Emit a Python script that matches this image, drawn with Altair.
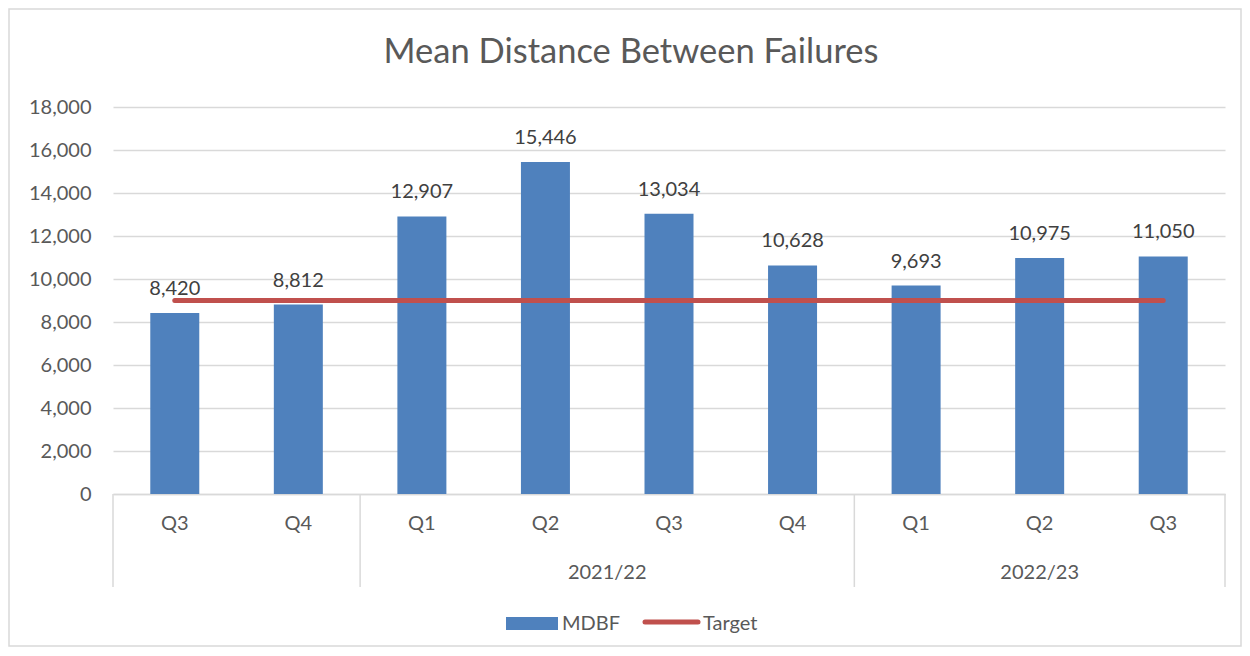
import altair as alt
import pandas as pd

# ---- data ----
quarters = ["Q3", "Q4", "Q1", "Q2", "Q3", "Q4", "Q1", "Q2", "Q3"]
years = ["", "", "2021/22", "2021/22", "2021/22", "2021/22", "2022/23", "2022/23", "2022/23"]
mdbf = [8420, 8812, 12907, 15446, 13034, 10628, 9693, 10975, 11050]
target = [9000, 9000, 9000, 9000, 9000, 9000, 9000, 9000, 9000]
series = ["MDBF", "Target"]
y_ticks = [0, 2000, 4000, 6000, 8000, 10000, 12000, 14000, 16000, 18000]
title_text = "Mean Distance Between Failures"

df = pd.DataFrame({
    "idx": list(range(len(quarters))),
    "quarter": quarters,
    "year": years,
    "mdbf": mdbf,
    "target": target,
})

# ---- style ----
W, H = 1112, 387
FONT = "Lato"
BLUE = "#4F81BD"
RED = "#C0504D"
GRID = "#D9D9D9"
TXT = "#595959"
LBL = "#404040"

n = len(quarters)
xscale = alt.Scale(domain=[-0.5, n - 0.5], nice=False, zero=False, padding=0)
yscale = alt.Scale(domain=[0, 18000], nice=False)
x_axis = alt.Axis(labels=False, ticks=False, grid=False, title=None,
                  domainColor=GRID, domainWidth=1.5)
y_axis = alt.Axis(values=y_ticks, format=",.0f", title=None, domain=False,
                  ticks=False, labelPadding=22, gridColor=GRID, gridWidth=1.5,
                  labelFontSize=20, labelColor=TXT, labelFont=FONT)


def X(field):
    return alt.X(field, scale=xscale, axis=x_axis, title=None)


def Y(field):
    return alt.Y(field, scale=yscale, axis=y_axis, title=None)


base = alt.Chart(df)

bars = base.mark_bar(size=49, color=BLUE).encode(x=X("idx:Q"), y=Y("mdbf:Q"))

line = base.mark_line(color=RED, strokeWidth=5, strokeCap="round").encode(
    x=X("idx:Q"), y=Y("target:Q"))

labels = base.mark_text(dy=-18, baseline="alphabetic", fontSize=20, color=LBL, font=FONT).encode(
    x=X("idx:Q"), y=Y("mdbf:Q"), text=alt.Text("mdbf:Q", format=","))

q_labels = base.mark_text(baseline="middle", fontSize=20, color=TXT, font=FONT).encode(
    x=X("idx:Q"), y=alt.value(H + 30), text="quarter:N")

yr_labels = base.transform_aggregate(
    center="mean(idx)", groupby=["year"]
).mark_text(baseline="middle", fontSize=20, color=TXT, font=FONT).encode(
    x=X("center:Q"), y=alt.value(H + 79), text="year:N")

seps = base.transform_aggregate(
    lo="min(idx)", groupby=["year"]
).transform_calculate(b="datum.lo - 0.5").mark_rule(color=GRID, strokeWidth=1.5).encode(
    x=X("b:Q"), y=alt.value(H), y2=alt.value(H + 93))

sep_end = base.transform_aggregate(
    hi="max(idx)"
).transform_calculate(b="datum.hi + 0.5").mark_rule(color=GRID, strokeWidth=1.5).encode(
    x=X("b:Q"), y=alt.value(H), y2=alt.value(H + 93))

# ---- custom legend, title, frame ----
leg_data = alt.Data(values=[{"s": series[0]}])
leg_data2 = alt.Data(values=[{"s": series[1]}])
title_data = alt.Data(values=[{"t": title_text}])

leg_rect = alt.Chart(leg_data).mark_rect(color=BLUE).encode(
    x=alt.value(393), x2=alt.value(445), y=alt.value(510), y2=alt.value(523))
leg_t1 = alt.Chart(leg_data).mark_text(align="left", baseline="middle", fontSize=20,
                                       color=TXT, font=FONT).encode(
    x=alt.value(449), y=alt.value(517), text="s:N")
leg_line = alt.Chart(leg_data2).mark_rule(color=RED, strokeWidth=5, strokeCap="round").encode(
    x=alt.value(532), x2=alt.value(585), y=alt.value(515))
leg_t2 = alt.Chart(leg_data2).mark_text(align="left", baseline="middle", fontSize=20,
                                        color=TXT, font=FONT).encode(
    x=alt.value(590), y=alt.value(517), text="s:N")

title = alt.Chart(title_data).mark_text(align="center", baseline="alphabetic", fontSize=34.5,
                                        color=TXT, font=FONT).encode(
    x=alt.value(518), y=alt.value(-44), text="t:N")

frame = alt.Chart(leg_data).mark_rect(fill=None, stroke=GRID, strokeWidth=1.5).encode(
    x=alt.value(-104), x2=alt.value(1128), y=alt.value(-98), y2=alt.value(539))

chart = alt.layer(
    frame, bars, line, labels, q_labels, yr_labels, seps, sep_end,
    leg_rect, leg_t1, leg_line, leg_t2, title,
).properties(
    width=W, height=H,
    autosize=alt.AutoSizeParams(type="none"),
    padding={"left": 105, "top": 99, "right": 17, "bottom": 154},
    background="white",
).configure_view(stroke=None)

chart.save("out.html", embed_options={"renderer": "svg", "actions": False})
